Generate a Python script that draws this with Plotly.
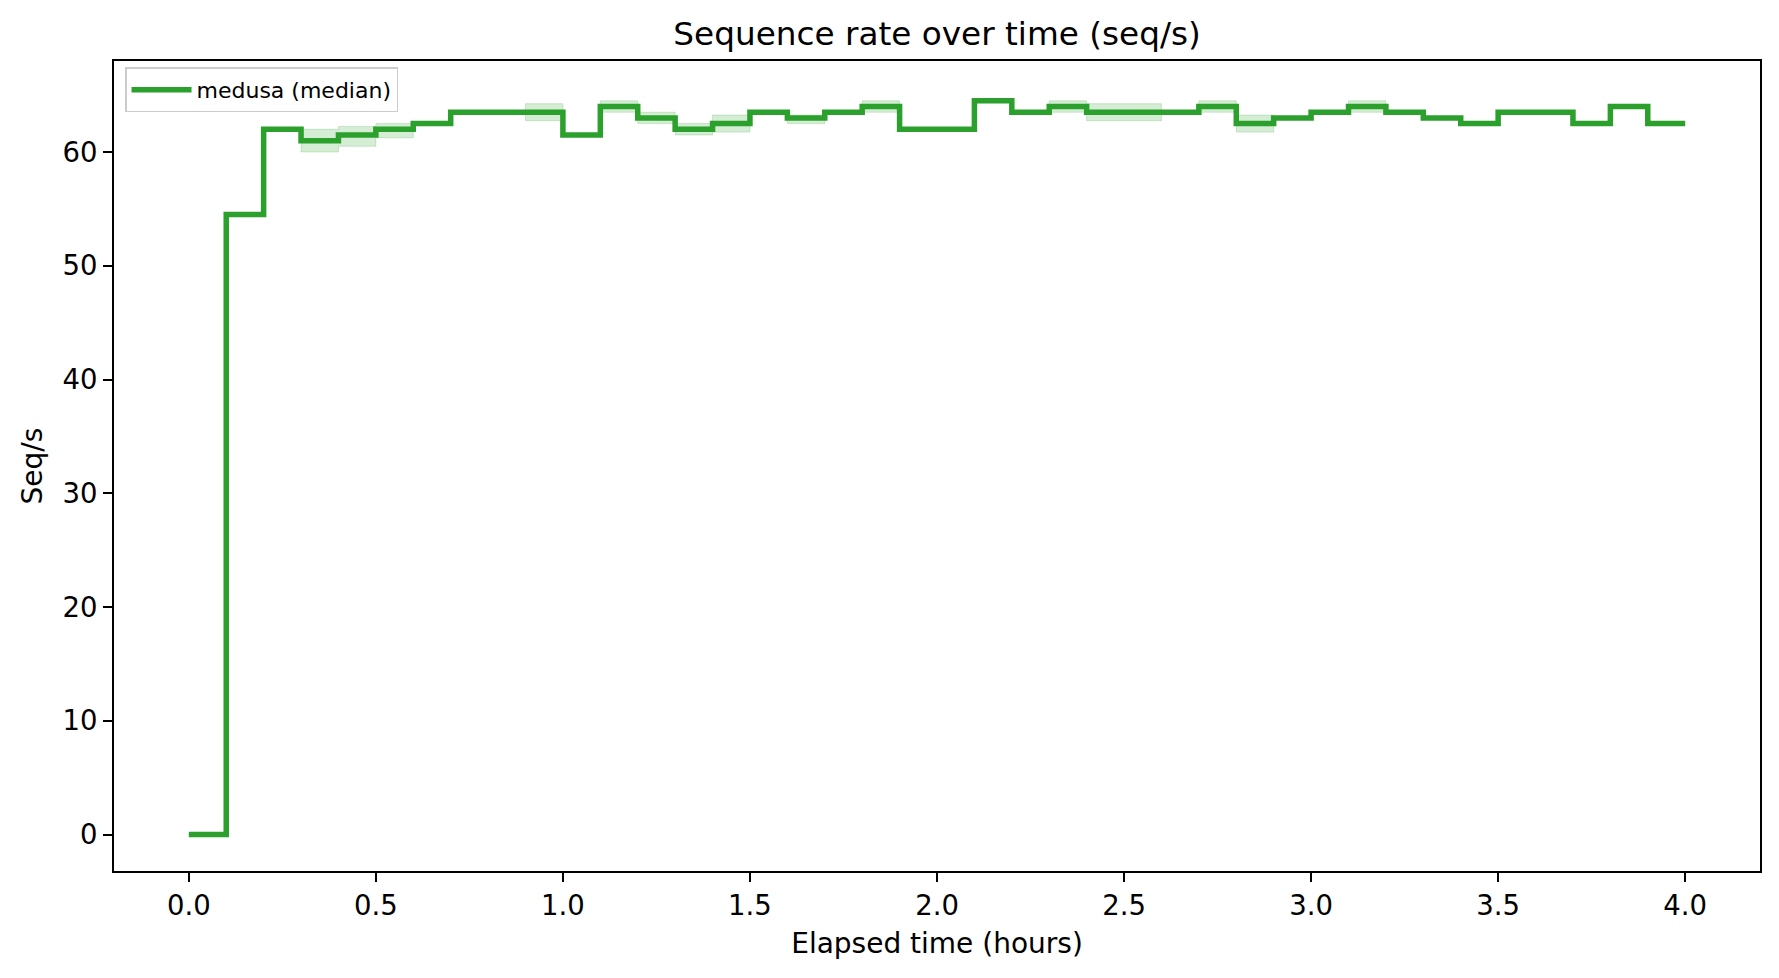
import plotly.graph_objects as go

# Elapsed time (hours), one bin every 0.1 h
hours = [0.0, 0.1, 0.2, 0.3, 0.4, 0.5, 0.6, 0.7, 0.8, 0.9,
         1.0, 1.1, 1.2, 1.3, 1.4, 1.5, 1.6, 1.7, 1.8, 1.9,
         2.0, 2.1, 2.2, 2.3, 2.4, 2.5, 2.6, 2.7, 2.8, 2.9,
         3.0, 3.1, 3.2, 3.3, 3.4, 3.5, 3.6, 3.7, 3.8, 3.9, 4.0]

# median seq/s per bin
median_rate = [0.0, 54.5, 62.0, 61.0, 61.5, 62.0, 62.5, 63.5, 63.5, 63.5,
               61.5, 64.0, 63.0, 62.0, 62.5, 63.5, 63.0, 63.5, 64.0, 62.0,
               62.0, 64.5, 63.5, 64.0, 63.5, 63.5, 63.5, 64.0, 62.5, 63.0,
               63.5, 64.0, 63.5, 63.0, 62.5, 63.5, 63.5, 62.5, 64.0, 62.5, 62.5]

# min / max across runs
min_rate = [0.0, 54.5, 62.0, 60.0, 60.5, 61.25, 62.5, 63.5, 63.5, 62.75,
            61.5, 63.5, 62.5, 61.5, 61.75, 63.5, 62.5, 63.5, 63.5, 62.0,
            62.0, 64.5, 63.5, 63.5, 62.75, 62.75, 63.5, 63.5, 61.75, 63.0,
            63.5, 63.5, 63.5, 63.0, 62.5, 63.5, 63.5, 62.5, 64.0, 62.5, 62.5]

max_rate = [0.0, 54.5, 62.0, 62.0, 62.25, 62.5, 62.5, 63.5, 63.5, 64.25,
            61.5, 64.5, 63.5, 62.5, 63.25, 63.5, 63.25, 63.5, 64.5, 62.0,
            62.0, 64.5, 63.5, 64.5, 64.25, 64.25, 63.5, 64.5, 63.25, 63.0,
            63.5, 64.5, 63.5, 63.0, 62.5, 63.5, 63.5, 62.5, 64.0, 62.5, 62.5]

x_ticks = [0.0, 0.5, 1.0, 1.5, 2.0, 2.5, 3.0, 3.5, 4.0]
x_tick_text = ["0.0", "0.5", "1.0", "1.5", "2.0", "2.5", "3.0", "3.5", "4.0"]
y_ticks = [0, 10, 20, 30, 40, 50, 60]

GREEN = "#2ca02c"
BAND = "rgba(44,160,44,0.2)"
FONT = "DejaVu Sans"

fig = go.Figure()
fig.add_trace(go.Scatter(
    x=hours, y=min_rate, mode="lines", line=dict(shape="hv", width=1, color=BAND),
    showlegend=False, hoverinfo="skip"))
fig.add_trace(go.Scatter(
    x=hours, y=max_rate, mode="lines", line=dict(shape="hv", width=1, color=BAND),
    fill="tonexty", fillcolor=BAND, showlegend=False, hoverinfo="skip"))
fig.add_trace(go.Scatter(
    x=hours, y=median_rate, mode="lines", name="medusa (median)",
    line=dict(shape="hv", width=5.5, color=GREEN)))

axis_common = dict(
    showline=True, mirror=True, linecolor="black", linewidth=2,
    ticks="outside", ticklen=9, tickwidth=2, tickcolor="black",
    showgrid=False, zeroline=False,
    tickfont=dict(family=FONT, size=27.5, color="black"),
)

fig.update_layout(
    width=1779, height=978,
    margin=dict(l=114, r=19, t=61, b=107),
    paper_bgcolor="white", plot_bgcolor="white",
    font=dict(family=FONT, color="black"),
    title=dict(text="Sequence rate over time (seq/s)", x=0.5, xref="paper",
               y=1 - 34 / 978, yanchor="middle", xanchor="center",
               font=dict(family=FONT, size=32.7, color="black")),
    xaxis=dict(range=[-0.2, 4.2], tickvals=x_ticks, ticktext=x_tick_text,
               title=dict(text="Elapsed time (hours)", standoff=13,
                          font=dict(family=FONT, size=28, color="black")),
               **axis_common),
    yaxis=dict(range=[-3.2, 68.0], tickvals=y_ticks,
               title=dict(text="Seq/s", standoff=12,
                          font=dict(family=FONT, size=28, color="black")),
               **axis_common),
    legend=dict(x=0.0067, y=0.992, xanchor="left", yanchor="top",
                bgcolor="rgba(255,255,255,0.8)", bordercolor="#cccccc", borderwidth=1.5,
                itemwidth=60,
                font=dict(family=FONT, size=22, color="black")),
    showlegend=True,
)

fig.write_html("out.html")
